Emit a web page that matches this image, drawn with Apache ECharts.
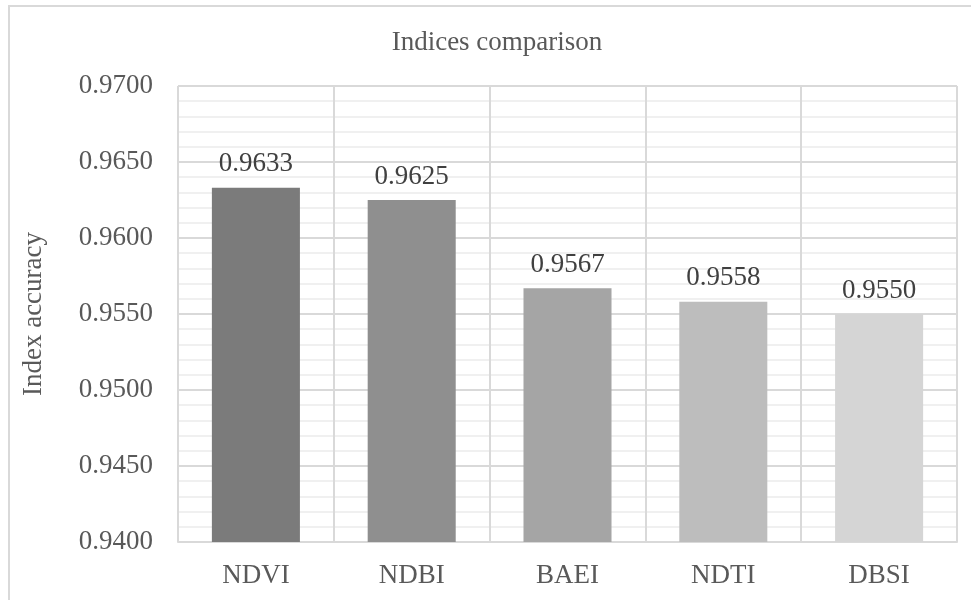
<!DOCTYPE html>
<html>
<head>
<meta charset="utf-8">
<script src="https://cdn.jsdelivr.net/npm/echarts@6/dist/echarts.min.js"></script>
<style>
  html, body { margin: 0; padding: 0; background: #fff; }
  #chart { width: 971px; height: 600px; }
</style>
</head>
<body>
<div id="chart"></div>
<script>
// Index names and their accuracy scores
const categories = ['NDVI', 'NDBI', 'BAEI', 'NDTI', 'DBSI'];
const accuracy = [0.9633, 0.9625, 0.9567, 0.9558, 0.9550];
const barColors = ['#7b7b7b', '#8f8f8f', '#a5a5a5', '#bdbdbd', '#d5d5d5'];
const yMin = 0.94, yMax = 0.97, yStep = 0.005;

const FONT = '"Liberation Serif", "Times New Roman", serif';
const TEXT = '#595959';

const chart = echarts.init(document.getElementById('chart'), null, { renderer: 'canvas' });

chart.setOption({
  animation: false,
  backgroundColor: '#ffffff',
  title: {
    text: 'Indices comparison',
    left: 492,
    top: 24,
    textAlign: 'center',
    textStyle: { fontFamily: FONT, fontSize: 27, fontWeight: 'normal', color: TEXT }
  },
  graphic: [{
    type: 'rect',
    shape: { x: 9, y: 6, width: 1200, height: 1200 },
    style: { fill: 'none', stroke: '#d9d9d9', lineWidth: 2 },
    silent: true
  }],
  grid: { left: 178, right: 14, top: 86, bottom: 58, containLabel: false },
  xAxis: {
    type: 'category',
    data: categories,
    axisLine: { show: true, lineStyle: { color: '#d9d9d9', width: 2 } },
    axisTick: { show: false },
    splitLine: { show: true, lineStyle: { color: '#d9d9d9', width: 2 } },
    axisLabel: { fontFamily: FONT, fontSize: 27, color: TEXT, margin: 20 }
  },
  yAxis: {
    type: 'value',
    min: yMin,
    max: yMax,
    interval: yStep,
    name: 'Index accuracy',
    nameLocation: 'middle',
    nameGap: 131,
    nameTextStyle: { fontFamily: FONT, fontSize: 27, color: TEXT },
    axisLine: { show: false },
    axisTick: { show: false },
    axisLabel: {
      fontFamily: FONT, fontSize: 27, color: TEXT, margin: 25,
      formatter: v => v.toFixed(4)
    },
    splitLine: { show: true, lineStyle: { color: '#d9d9d9', width: 2 } },
    minorTick: { show: false, splitNumber: 5 },
    minorSplitLine: { show: true, lineStyle: { color: '#f0f0f0', width: 2 } }
  },
  series: [{
    type: 'bar',
    barWidth: '56.5%',
    data: accuracy.map((v, i) => ({ value: v, itemStyle: { color: barColors[i] } })),
    label: {
      show: true,
      position: 'top',
      distance: 10,
      fontFamily: FONT,
      fontSize: 27,
      color: '#404040',
      formatter: p => p.value.toFixed(4)
    }
  }]
});
</script>
</body>
</html>
